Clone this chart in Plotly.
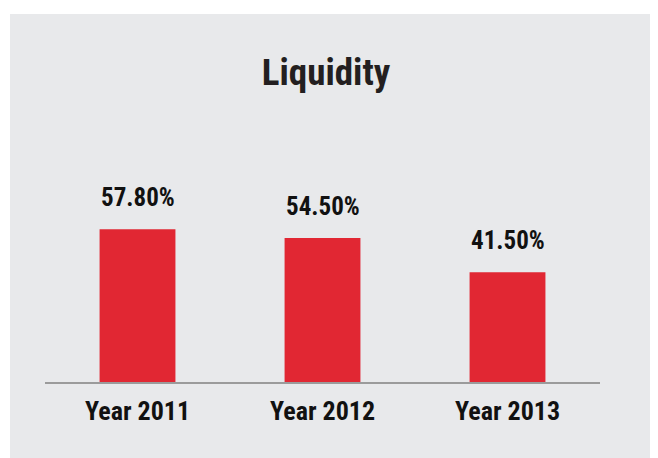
import plotly.graph_objects as go

categories = ["Year 2011", "Year 2012", "Year 2013"]
values = [57.8, 54.5, 41.5]
value_labels = ["57.80%", "54.50%", "41.50%"]
title_text = "Liquidity"

FONT = "Roboto Condensed, Liberation Sans Narrow, DejaVu Sans Condensed, sans-serif"
# page has an 8px body margin, so the figure is drawn 8px in from the window corner
W, H = 650, 450
ML, MR, MT, MB = 37, 58, 107, 76
PW = W - ML - MR
PH = H - MT - MB

def px_to_paper_x(px):
    return (px - ML) / PW

def px_to_paper_y(py):
    return (H - MB - py) / PH

fig = go.Figure()
fig.add_trace(go.Bar(
    x=categories, y=values, width=0.41,
    marker=dict(color="#e12733", line=dict(width=0)),
    hoverinfo="skip",
))

for c, v, t in zip(categories, values, value_labels):
    fig.add_annotation(
        x=c, y=v, text=t, showarrow=False, yanchor="bottom", yshift=15,
        font=dict(family=FONT, size=25, color="#111111", weight="bold"),
    )

fig.add_shape(
    type="rect", xref="paper", yref="paper", layer="below",
    x0=px_to_paper_x(2), x1=px_to_paper_x(W + 5),
    y0=px_to_paper_y(451), y1=px_to_paper_y(6),
    fillcolor="#e8e9eb", line=dict(width=0),
)

fig.update_layout(
    width=W, height=H,
    margin=dict(l=ML, r=MR, t=MT, b=MB),
    paper_bgcolor="white",
    plot_bgcolor="rgba(0,0,0,0)",
    showlegend=False,
    title=dict(
        text=title_text, x=318 / W, xanchor="center", xref="container",
        y=1 - 51 / H, yanchor="top", yref="container",
        font=dict(family=FONT, size=37, color="#231f20", weight="bold"),
    ),
    xaxis=dict(
        range=[-0.5, 2.5], showline=True, linecolor="#9b9b9b", linewidth=2,
        showgrid=False, zeroline=False, ticks="",
        tickfont=dict(family=FONT, size=26, color="#111111", weight="bold"),
        ticklabelstandoff=5,
    ),
    yaxis=dict(
        range=[0, 101], visible=False, showgrid=False, zeroline=False,
    ),
)

fig.write_html("out.html")
